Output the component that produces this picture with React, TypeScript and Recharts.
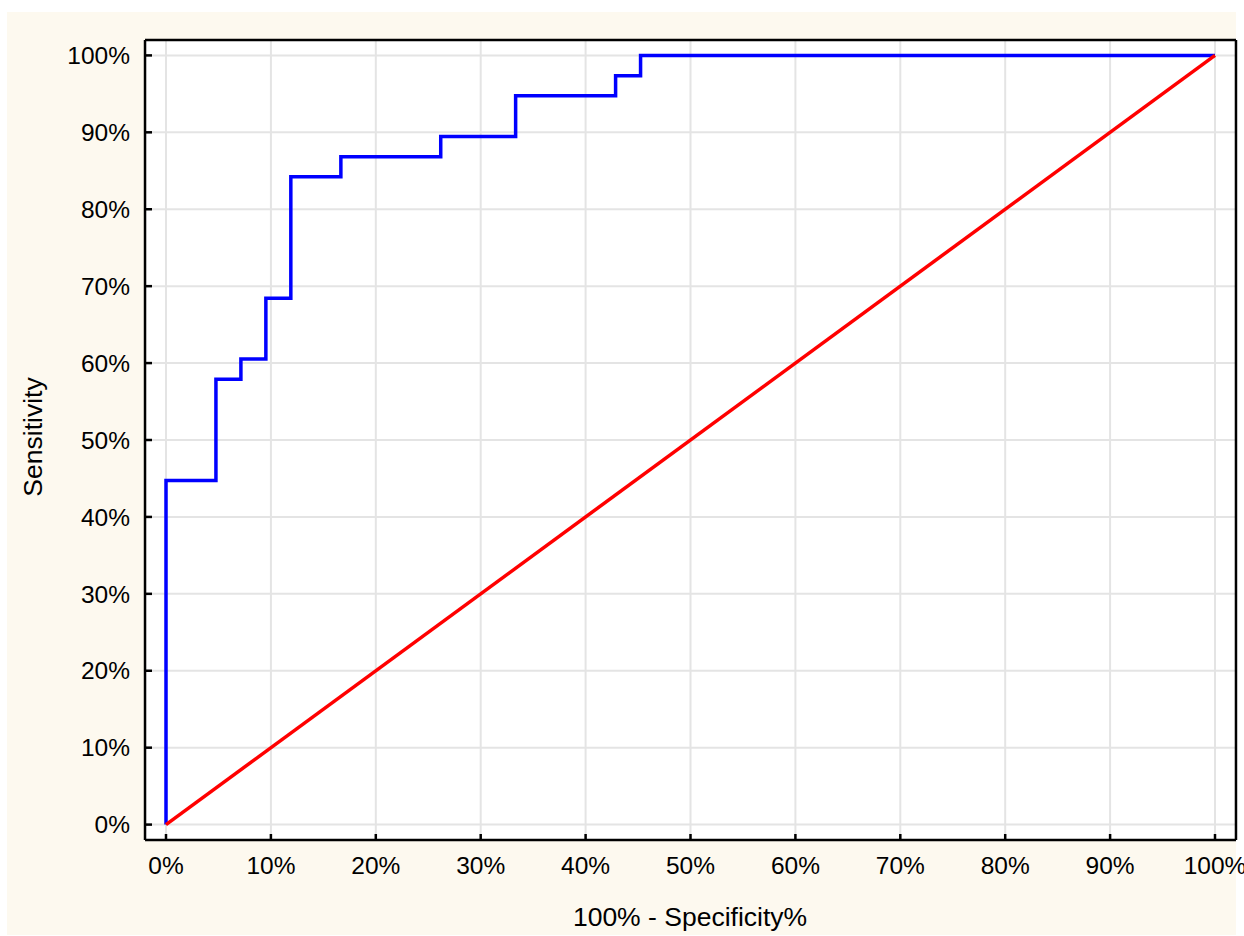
import { LineChart, Line, XAxis, YAxis, CartesianGrid } from 'recharts'

// ROC curve corner points (1 - specificity, sensitivity), in percent
const fprPoints = [0, 0, 4.76, 7.14, 9.52, 11.9, 16.67, 26.19, 33.33, 42.86, 45.24, 100]
const tprPoints = [0, 44.74, 57.89, 60.53, 68.42, 84.21, 86.84, 89.47, 94.74, 97.37, 100, 100]

// reference diagonal
const diagX = [0, 100]
const diagY = [0, 100]

const majorTicks = [0, 10, 20, 30, 40, 50, 60, 70, 80, 90, 100]
const minorTicks = [
  0, 2.5, 5, 7.5, 10, 12.5, 15, 17.5, 20, 22.5, 25, 27.5, 30, 32.5, 35, 37.5, 40, 42.5, 45, 47.5, 50,
  52.5, 55, 57.5, 60, 62.5, 65, 67.5, 70, 72.5, 75, 77.5, 80, 82.5, 85, 87.5, 90, 92.5, 95, 97.5, 100,
]
const axisDomain: [number, number] = [-2, 102]

const FONT = '"Liberation Sans", Arial, Helvetica, sans-serif'

const rocData = fprPoints.map((x, i) => ({ x, y: tprPoints[i] }))
const chanceData = diagX.map((x, i) => ({ x, y: diagY[i] }))

const pct = (v: number) => `${v}%`
const NoTick = () => <g />

// axes are stacked flat on the frame; recharts skips axes of size 0
const THIN = 0.01

const frame = { stroke: '#000', strokeWidth: 2.5 }
const majorLine = { stroke: '#000', strokeWidth: 2.5 }
const minorLine = { stroke: '#000', strokeWidth: 2 }
const labelStyle = { fontSize: 24.5, fill: '#000', fontFamily: FONT }

export default function App() {
  return (
    <div style={{ position: 'absolute', left: 0, top: 0, width: 1244, height: 936, background: '#fff', fontFamily: FONT }}>
      <div style={{ position: 'absolute', left: 7, top: 12, width: 1229, height: 923, background: '#fdf9ef' }} />

      <div style={{ position: 'absolute', left: 0, top: 0 }}>
        <LineChart width={1244} height={936} margin={{ top: 40, right: 8, bottom: 96, left: 145 }}>
          <CartesianGrid xAxisId="b" yAxisId="l" stroke="#e4e4e4" strokeWidth={2} fill="#fff" fillOpacity={1} />

          {/* bottom: labels + major ticks, then minor ticks */}
          <XAxis xAxisId="b" type="number" dataKey="x" domain={axisDomain} ticks={majorTicks} interval={0}
            height={THIN} tickSize={-6} tickMargin={23} tickFormatter={pct} tick={labelStyle}
            axisLine={frame} tickLine={majorLine} />
          <XAxis xAxisId="bm" type="number" dataKey="x" domain={axisDomain} ticks={minorTicks} interval={0}
            height={THIN} tickSize={-3} tick={NoTick} axisLine={false} tickLine={minorLine} />

          {/* top frame */}
          <XAxis xAxisId="t" orientation="top" type="number" dataKey="x" domain={axisDomain} ticks={majorTicks} interval={0}
            height={THIN} tickSize={-6} tick={NoTick} axisLine={frame} tickLine={majorLine} />
          <XAxis xAxisId="tm" orientation="top" type="number" dataKey="x" domain={axisDomain} ticks={minorTicks} interval={0}
            height={THIN} tickSize={-3} tick={NoTick} axisLine={false} tickLine={minorLine} />

          {/* left: labels + major ticks, then minor */}
          <YAxis yAxisId="l" type="number" domain={axisDomain} ticks={majorTicks} interval={0}
            width={THIN} tickSize={-7} tickMargin={22} tickFormatter={pct} tick={labelStyle}
            axisLine={frame} tickLine={majorLine} />
          <YAxis yAxisId="lm" type="number" domain={axisDomain} ticks={minorTicks} interval={0}
            width={THIN} tickSize={-3} tick={NoTick} axisLine={false} tickLine={minorLine} />

          {/* right frame */}
          <YAxis yAxisId="r" orientation="right" type="number" domain={axisDomain} ticks={majorTicks} interval={0}
            width={THIN} tickSize={-7} tick={NoTick} axisLine={frame} tickLine={majorLine} />
          <YAxis yAxisId="rm" orientation="right" type="number" domain={axisDomain} ticks={minorTicks} interval={0}
            width={THIN} tickSize={-3} tick={NoTick} axisLine={false} tickLine={minorLine} />

          <Line xAxisId="b" yAxisId="l" data={rocData} dataKey="y" type="stepAfter" stroke="#0000ff"
            strokeWidth={3.5} dot={false} activeDot={false} isAnimationActive={false} />
          <Line xAxisId="b" yAxisId="l" data={chanceData} dataKey="y" type="linear" stroke="#ff0000"
            strokeWidth={3.5} dot={false} activeDot={false} isAnimationActive={false} />
        </LineChart>
      </div>

      <div style={{ position: 'absolute', left: 390, top: 902, width: 600, textAlign: 'center', fontSize: 26.5, lineHeight: '30px', color: '#000' }}>
        100% - Specificity%
      </div>
      <div style={{ position: 'absolute', left: -117, top: 422, width: 300, textAlign: 'center', fontSize: 26.5, lineHeight: '30px', color: '#000', transform: 'rotate(-90deg)' }}>
        Sensitivity
      </div>
    </div>
  )
}
